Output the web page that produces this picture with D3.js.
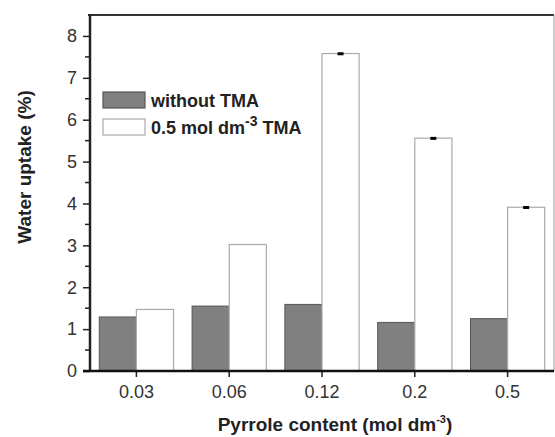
<!DOCTYPE html>
<html>
<head>
<meta charset="utf-8">
<script src="https://cdn.jsdelivr.net/npm/d3@7"></script>
<style>
  body { margin: 0; background: #fff; }
  text { font-family: "Liberation Sans", Arial, sans-serif; }
</style>
</head>
<body>
<div id="chart"></div>
<script>
// data
var categories = ['0.03', '0.06', '0.12', '0.2', '0.5'];
var withoutTMA = [1.29, 1.55, 1.59, 1.16, 1.25];
var withTMA = [1.47, 3.02, 7.58, 5.56, 3.91];
var withTMAErr = [0, 0, 0.03, 0.03, 0.03];
var yTicks = [0, 1, 2, 3, 4, 5, 6, 7, 8];

var w = 555, h = 437;
var margin = {top: 15, right: 1, bottom: 66, left: 90};
var innerW = w - margin.left - margin.right,
	innerH = h - margin.top - margin.bottom;

var svg = d3.select('#chart').append('svg')
	.attr('width', w)
	.attr('height', h);

var g = svg.append('g')
	.attr('transform', 'translate(' + margin.left + ',' + margin.top + ')');

var x = d3.scaleBand().domain(categories).range([0, innerW]);
var y = d3.scaleLinear().domain([0, 8.5]).range([innerH, 0]);
var barW = x.bandwidth() * 0.4;

// frame top + right
g.append('line')
	.attr('x1', -2).attr('x2', innerW)
	.attr('y1', 0).attr('y2', 0)
	.style('stroke', '#333').style('stroke-width', 2);
g.append('line')
	.attr('x1', innerW).attr('x2', innerW)
	.attr('y1', 0).attr('y2', innerH)
	.style('stroke', '#999').style('stroke-width', 1);

// bars
var groups = g.selectAll('.cat')
	.data(categories)
	.enter().append('g')
	.attr('class', 'cat')
	.attr('transform', function (d) {
		return 'translate(' + (x(d) + x.bandwidth() / 2) + ',0)';
	});

groups.append('rect')
	.attr('x', -barW)
	.attr('y', function (d, i) { return y(withoutTMA[i]); })
	.attr('width', barW)
	.attr('height', function (d, i) { return innerH - y(withoutTMA[i]); })
	.style('fill', '#808080')
	.style('stroke', '#555')
	.style('stroke-width', 1);

groups.append('rect')
	.attr('x', 0)
	.attr('y', function (d, i) { return y(withTMA[i]); })
	.attr('width', barW)
	.attr('height', function (d, i) { return innerH - y(withTMA[i]); })
	.style('fill', '#fff')
	.style('stroke', '#aaa')
	.style('stroke-width', 1.2);

// error bars (tiny)
groups.filter(function (d, i) { return withTMAErr[i] > 0; })
	.append('rect')
	.attr('x', barW / 2 - 3)
	.attr('y', function (d) {
		var i = categories.indexOf(d);
		return y(withTMA[i] + withTMAErr[i]);
	})
	.attr('width', 6)
	.attr('height', function (d) {
		var i = categories.indexOf(d);
		return Math.max(3, y(withTMA[i] - withTMAErr[i]) - y(withTMA[i] + withTMAErr[i]));
	})
	.style('fill', '#000');

// y axis
var yAxis = g.append('g')
	.call(d3.axisLeft(y).tickValues(yTicks).tickSize(7).tickPadding(6).tickFormat(d3.format('d')));
yAxis.select('.domain').remove();
yAxis.selectAll('.tick line').style('stroke', '#222').style('stroke-width', 1.5);
yAxis.selectAll('.tick text')
	.style('font-size', '18px')
	.style('fill', '#333')
	.style('font-family', '"Liberation Sans", Arial, sans-serif');

var minor = d3.range(0.5, 8.5, 1);
g.selectAll('.minor')
	.data(minor)
	.enter().append('line')
	.attr('x1', -5).attr('x2', 0)
	.attr('y1', function (d) { return y(d); })
	.attr('y2', function (d) { return y(d); })
	.style('stroke', '#222').style('stroke-width', 1.5);

g.append('line')
	.attr('x1', 0).attr('x2', 0)
	.attr('y1', -1).attr('y2', innerH)
	.style('stroke', '#222').style('stroke-width', 2.5);

// x axis
var xAxis = g.append('g')
	.attr('transform', 'translate(0,' + innerH + ')')
	.call(d3.axisBottom(x).tickSize(6).tickPadding(8));
xAxis.select('.domain').remove();
xAxis.selectAll('.tick line').style('stroke', '#222').style('stroke-width', 1.5);
xAxis.selectAll('.tick text')
	.style('font-size', '18px')
	.style('fill', '#333')
	.style('font-family', '"Liberation Sans", Arial, sans-serif');

g.append('line')
	.attr('x1', -7).attr('x2', innerW)
	.attr('y1', innerH).attr('y2', innerH)
	.style('stroke', '#111').style('stroke-width', 2.5);

// axis titles
svg.append('text')
	.attr('transform', 'translate(31,167) rotate(-90)')
	.attr('text-anchor', 'middle')
	.style('font-size', '19px')
	.style('font-weight', 'bold')
	.style('fill', '#222')
	.text('Water uptake (%)');

var xt = svg.append('text')
	.attr('x', 335).attr('y', 431)
	.attr('text-anchor', 'middle')
	.style('font-size', '19px')
	.style('font-weight', 'bold')
	.style('fill', '#222');
xt.append('tspan').text('Pyrrole content (mol dm');
xt.append('tspan').attr('dy', -8).style('font-size', '11px').text('-3');
xt.append('tspan').attr('dy', 8).text(')');

// legend
var legend = svg.append('g').attr('transform', 'translate(103,92)');
var legendItems = [
	{fill: '#808080', stroke: '#555', label: 'without TMA'},
	{fill: '#fff', stroke: '#aaa', label: '0.5 mol dm', sup: '-3', tail: ' TMA'}
];
legendItems.forEach(function (d, i) {
	var row = legend.append('g').attr('transform', 'translate(0,' + (i * 27) + ')');
	row.append('rect')
		.attr('width', 42).attr('height', 16)
		.style('fill', d.fill).style('stroke', d.stroke).style('stroke-width', 1.2);
	var t = row.append('text')
		.attr('x', 48).attr('y', 15)
		.style('font-size', '18px')
		.style('font-weight', 'bold')
		.style('fill', '#222');
	t.append('tspan').text(d.label);
	if (d.sup) {
		t.append('tspan').attr('dy', -8).style('font-size', '14px').text(d.sup);
		t.append('tspan').attr('dy', 8).text(d.tail);
	}
});
</script>
</body>
</html>
